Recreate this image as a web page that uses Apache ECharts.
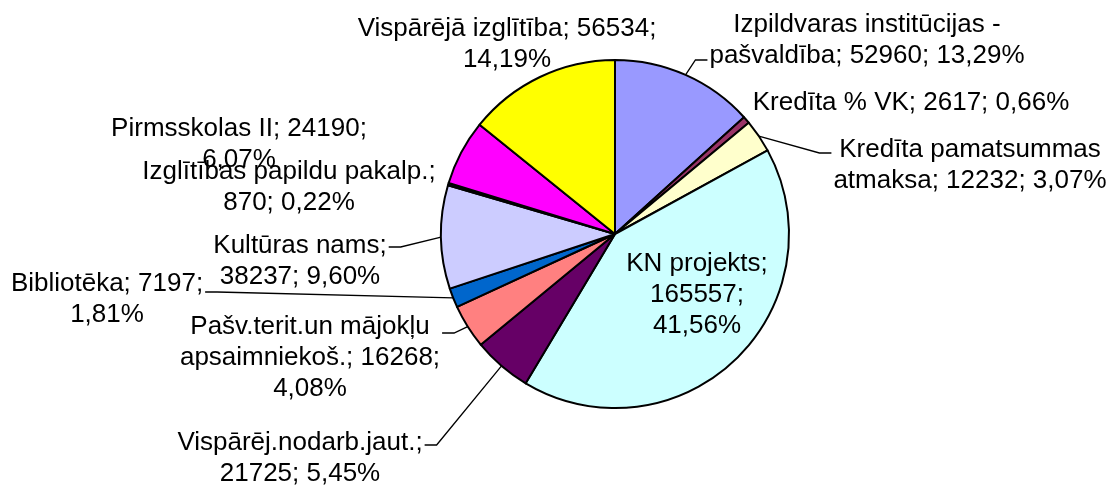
<!DOCTYPE html>
<html>
<head>
<meta charset="utf-8">
<script src="https://cdn.jsdelivr.net/npm/echarts@6/dist/echarts.min.js"></script>
<style>
    html, body { margin: 0; padding: 0; background: #fff; }
    #main { width: 1117px; height: 486px; }
</style>
</head>
<body>
<div id="main"></div>
<script>
var names = ['Izpildvaras institūcijas - pašvaldība', 'Kredīta % VK', 'Kredīta pamatsummas atmaksa',
    'KN projekts', 'Vispārēj.nodarb.jaut.', 'Pašv.terit.un mājokļu apsaimniekoš.', 'Bibliotēka',
    'Kultūras nams', 'Izglītības papildu pakalp.', 'Pirmsskolas II', 'Vispārējā izglītība'];
var values = [52960, 2617, 12232, 165557, 21725, 16268, 7197, 38237, 870, 24190, 56534];
var colors = ['#9999FF', '#993366', '#FFFFCC', '#CCFFFF', '#660066', '#FF8080', '#0066CC',
    '#CCCCFF', '#000080', '#FF00FF', '#FFFF00'];

// words per label line (how Excel wrapped each label)
var lineWords = [[3, 3], [5], [2, 3], [2, 1, 1], [1, 2], [2, 2, 1], [2, 1], [2, 2], [3, 2], [3, 1], [3, 1]];
// label block centres and leader line end offsets (null = no leader)
var labelPos = [[867, 40], [911, 103], [970, 165], [697, 295], [300, 458], [310, 358],
    [107, 299], [300, 261], [289, 187], [239, 144], [507, 44]];
var leaderDy = [20, null, -12, null, -13, -25, -7, -14, null, null, null];

var total = 0;
for (var i = 0; i < values.length; i++) total += values[i];

function labelText(i) {
    var pct = (values[i] / total * 100).toFixed(2).replace('.', ',') + '%';
    var words = (names[i] + '; ' + values[i] + '; ' + pct).split(' ');
    var lines = [], k = 0;
    for (var j = 0; j < lineWords[i].length; j++) {
        lines.push(words.slice(k, k + lineWords[i][j]).join(' '));
        k += lineWords[i][j];
    }
    return lines.join('\n');
}

var data = [];
for (var i = 0; i < values.length; i++) {
    data.push({
        name: names[i],
        value: values[i],
        itemStyle: {color: colors[i]},
        labelLine: {show: leaderDy[i] != null}
    });
}

var myChart = echarts.init(document.getElementById('main'));
var pieCx = 615;

var option = {
    animation: false,
    backgroundColor: '#ffffff',
    series: [
        {
            type: 'pie',
            center: [pieCx, 234],
            radius: 174,
            startAngle: 90,
            clockwise: true,
            avoidLabelOverlap: false,
            data: data,
            itemStyle: {borderColor: '#000', borderWidth: 2},
            label: {
                position: 'outside',
                color: '#000',
                fontFamily: '"Liberation Sans", Arial, sans-serif',
                fontSize: 26,
                lineHeight: 31,
                formatter: function (p) {
                    return labelText(p.dataIndex);
                }
            },
            labelLine: {
                length: 10,
                length2: 10,
                lineStyle: {color: '#000', width: 1.3}
            },
            emphasis: {disabled: true},
            labelLayout: function (params) {
                var i = params.dataIndex;
                var pos = labelPos[i];
                var res = {x: pos[0], y: pos[1], align: 'center', verticalAlign: 'middle'};
                if (leaderDy[i] != null && params.labelLinePoints) {
                    var w = params.labelRect.width;
                    var left = pos[0] < pieCx;
                    var ex = left ? pos[0] + w / 2 + 2 : pos[0] - w / 2 - 2;
                    var ey = pos[1] + leaderDy[i];
                    var start = params.labelLinePoints[0];
                    res.labelLinePoints = [
                        [start[0], start[1]],
                        [left ? ex + 12 : ex - 12, ey],
                        [ex, ey]
                    ];
                }
                return res;
            }
        }
    ]
};

myChart.setOption(option);
window.onresize = myChart.resize;
</script>
</body>
</html>
